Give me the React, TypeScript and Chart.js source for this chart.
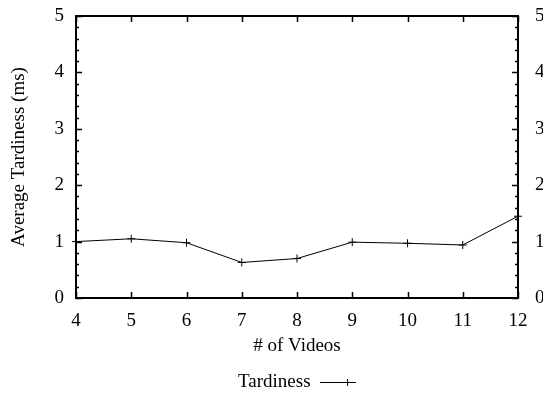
import React, { useEffect, useRef } from "react";
import { Chart, registerables } from "chart.js";

Chart.register(...registerables);

const categories = ["4", "5", "6", "7", "8", "9", "10", "11", "12"];
const tardiness = [1.0, 1.05, 0.98, 0.63, 0.7, 0.99, 0.97, 0.94, 1.45];
const yTicks = [0, 1, 2, 3, 4, 5];
const seriesName = "Tardiness";
const xTitle = "# of Videos";
const yTitle = "Average Tardiness (ms)";

const FONT = "'Liberation Serif', 'Times New Roman', serif";
const FS = 19;
const W = 560;
const H = 402;
const PLOT_LEFT = 76;
const PLOT_RIGHT = 518;
const PLOT_TOP = 16;
const PLOT_BOTTOM = 298;
const LEGEND_H = FS + 10 + 10;

function makeLegendSymbol(): HTMLCanvasElement {
  const c = document.createElement("canvas");
  c.width = 36;
  c.height = 9;
  const g = c.getContext("2d")!;
  g.strokeStyle = "#000";
  g.lineWidth = 1;
  g.beginPath();
  g.moveTo(0, 4.5);
  g.lineTo(36, 4.5);
  g.moveTo(27.5, 1);
  g.lineTo(27.5, 8);
  g.stroke();
  return c;
}

const framePlugin = {
  id: "gnuplotFrame",
  afterDatasetsDraw(chart: any) {
    const { ctx, chartArea } = chart;
    const xs = chart.scales.x;
    const ys = chart.scales.y;
    const { left, right, top, bottom } = chartArea;
    ctx.save();
    ctx.strokeStyle = "#000";
    ctx.lineWidth = 1.5;
    ctx.beginPath();
    for (let i = 0; i < categories.length; i++) {
      const px = Math.round(xs.getPixelForValue(i)) + 0.5;
      ctx.moveTo(px, bottom);
      ctx.lineTo(px, bottom - 6);
      ctx.moveTo(px, top);
      ctx.lineTo(px, top + 6);
    }
    const yMax = yTicks[yTicks.length - 1];
    for (let k = 0; k <= yMax * 5; k++) {
      const v = k / 5;
      const len = k % 5 === 0 ? 6 : 3;
      const py = Math.round(ys.getPixelForValue(v)) + 0.5;
      ctx.moveTo(left, py);
      ctx.lineTo(left + len, py);
      ctx.moveTo(right, py);
      ctx.lineTo(right - len, py);
    }
    ctx.stroke();
    ctx.lineWidth = 2;
    ctx.strokeRect(left, top, right - left, bottom - top);
    ctx.restore();
  },
};

export default function App() {
  const ref = useRef<HTMLCanvasElement>(null);
  useEffect(() => {
    if (!ref.current) return;
    Chart.defaults.font.family = FONT;
    Chart.defaults.font.size = FS;
    Chart.defaults.color = "#000";
    const chart = new Chart(ref.current, {
      type: "line",
      data: {
        labels: categories,
        datasets: [
          {
            label: seriesName,
            data: tardiness,
            borderColor: "#000",
            backgroundColor: "#000",
            borderWidth: 1,
            pointStyle: "cross",
            pointRadius: 4,
            pointBorderWidth: 1,
            tension: 0,
            fill: false,
          },
        ],
      },
      options: {
        responsive: false,
        animation: false,
        devicePixelRatio: 1,
        layout: { padding: { top: PLOT_TOP, left: 0, right: 0, bottom: 0 } },
        plugins: {
          tooltip: { enabled: false },
          legend: {
            display: true,
            position: "bottom",
            fullSize: false,
            rtl: true,
            labels: {
              usePointStyle: true,
              pointStyle: makeLegendSymbol(),
              pointStyleWidth: 36,
              padding: 10,
              color: "#000",
              font: { family: FONT, size: FS },
            },
          },
        },
        scales: {
          x: {
            type: "category",
            offset: false,
            grid: { display: false, drawTicks: false },
            border: { display: false },
            ticks: { padding: 12, maxRotation: 0, autoSkip: false, font: { family: FONT, size: FS } },
            title: {
              display: true,
              text: xTitle,
              padding: { top: 0, bottom: 6 },
              font: { family: FONT, size: FS },
            },
            afterFit(scale: any) {
              scale.height = H - LEGEND_H - PLOT_BOTTOM;
              scale.paddingLeft = 0;
              scale.paddingRight = 0;
            },
          },
          y: {
            position: "left",
            min: 0,
            max: 5,
            grid: { display: false, drawTicks: false },
            border: { display: false },
            ticks: { stepSize: 1, padding: 12, font: { family: FONT, size: FS } },
            title: {
              display: true,
              text: yTitle,
              padding: { top: 8, bottom: 0 },
              font: { family: FONT, size: FS },
            },
            afterFit(scale: any) {
              scale.width = PLOT_LEFT;
              scale.paddingTop = 0;
              scale.paddingBottom = 0;
            },
          },
          y2: {
            position: "right",
            min: 0,
            max: 5,
            grid: { display: false, drawTicks: false },
            border: { display: false },
            ticks: { stepSize: 1, padding: 17, font: { family: FONT, size: FS } },
            afterFit(scale: any) {
              scale.width = W - PLOT_RIGHT;
              scale.paddingTop = 0;
              scale.paddingBottom = 0;
            },
          },
        },
      },
      plugins: [framePlugin],
    });
    return () => chart.destroy();
  }, []);

  return (
    <div
      style={{
        position: "absolute",
        left: 0,
        top: 0,
        width: 543,
        height: 395,
        overflow: "hidden",
        background: "#fff",
      }}
    >
      <canvas ref={ref} width={W} height={H} style={{ width: W, height: H, display: "block" }} />
    </div>
  );
}
